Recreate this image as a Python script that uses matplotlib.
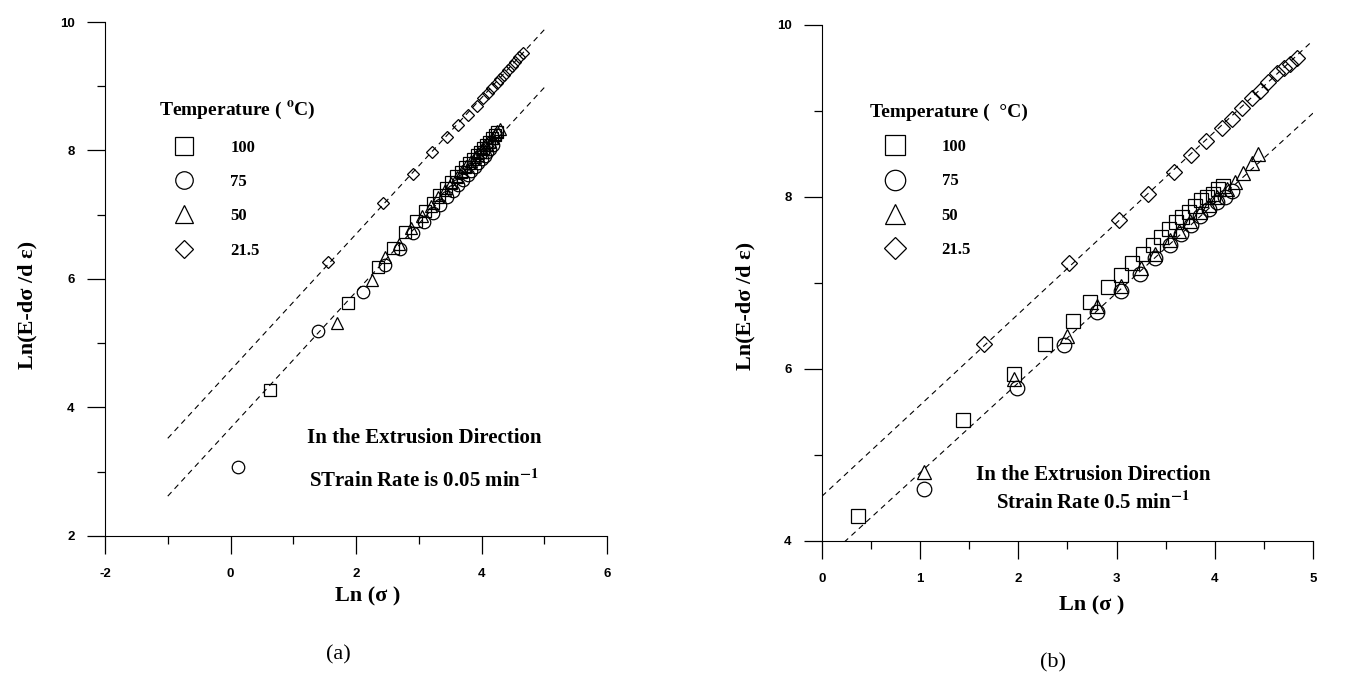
import numpy as np
import matplotlib
matplotlib.use('Agg')
import matplotlib.pyplot as plt

plt.rcParams['font.family'] = ['Liberation Serif', 'DejaVu Serif']
plt.rcParams['font.weight'] = 'bold'
plt.rcParams['mathtext.fontset'] = 'stix'
plt.rcParams['axes.unicode_minus'] = False

temps = ['100', '75', '50', '21.5']
markers = ['s', 'o', '^', 'D']

# (a) strain rate 0.05 min^-1
a_sq_x = [0.63, 1.87, 2.35, 2.59, 2.78, 2.95, 3.10, 3.22, 3.33, 3.43, 3.52, 3.60, 3.67, 3.74, 3.80, 3.86, 3.92, 3.97, 4.02, 4.07, 4.12, 4.17, 4.21, 4.25]
a_sq_y = [4.27, 5.63, 6.18, 6.48, 6.73, 6.90, 7.06, 7.19, 7.31, 7.42, 7.51, 7.60, 7.67, 7.75, 7.81, 7.87, 7.93, 7.98, 8.04, 8.09, 8.14, 8.19, 8.24, 8.29]
a_ci_x = [0.12, 1.39, 2.11, 2.46, 2.70, 2.91, 3.08, 3.22, 3.34, 3.45, 3.55, 3.63, 3.71, 3.78, 3.84, 3.90, 3.95, 4.00, 4.05, 4.09, 4.14, 4.18]
a_ci_y = [3.08, 5.19, 5.80, 6.22, 6.46, 6.71, 6.88, 7.03, 7.15, 7.27, 7.37, 7.46, 7.54, 7.62, 7.68, 7.75, 7.81, 7.86, 7.92, 7.97, 8.02, 8.08]
a_tr_x = [1.70, 2.25, 2.46, 2.68, 2.88, 3.05, 3.19, 3.31, 3.42, 3.52, 3.61, 3.69, 3.76, 3.83, 3.89, 3.95, 4.01, 4.06, 4.11, 4.16, 4.21, 4.25, 4.29]
a_tr_y = [5.32, 5.98, 6.35, 6.55, 6.80, 6.98, 7.14, 7.27, 7.39, 7.50, 7.59, 7.68, 7.76, 7.83, 7.90, 7.96, 8.03, 8.09, 8.14, 8.20, 8.25, 8.30, 8.34]
a_di_x = [1.55, 2.43, 2.91, 3.21, 3.45, 3.63, 3.79, 3.93, 4.02, 4.10, 4.17, 4.24, 4.30, 4.36, 4.42, 4.48, 4.54, 4.60, 4.66]
a_di_y = [6.27, 7.18, 7.64, 7.97, 8.21, 8.39, 8.56, 8.70, 8.82, 8.90, 8.98, 9.05, 9.12, 9.18, 9.25, 9.31, 9.38, 9.45, 9.52]
a_fits = [(1.06, 4.58), (1.06, 3.68)]   # slope, intercept of dashed lines
a_fit_x = [-1.0, 5.0]

# (b) strain rate 0.5 min^-1
b_sq_x = [0.37, 1.44, 1.96, 2.27, 2.56, 2.73, 2.91, 3.04, 3.16, 3.27, 3.37, 3.45, 3.53, 3.60, 3.67, 3.74, 3.80, 3.86, 3.92, 3.98, 4.03, 4.08]
b_sq_y = [4.29, 5.41, 5.94, 6.29, 6.56, 6.78, 6.95, 7.09, 7.23, 7.34, 7.44, 7.54, 7.63, 7.71, 7.77, 7.83, 7.90, 7.96, 8.00, 8.04, 8.09, 8.13]
b_ci_x = [1.04, 1.99, 2.46, 2.80, 3.05, 3.24, 3.39, 3.54, 3.66, 3.76, 3.85, 3.94, 4.02, 4.10, 4.18]
b_ci_y = [4.61, 5.78, 6.28, 6.66, 6.91, 7.10, 7.29, 7.44, 7.57, 7.68, 7.78, 7.86, 7.94, 8.00, 8.07]
b_tr_x = [1.04, 1.96, 2.50, 2.80, 3.05, 3.25, 3.39, 3.54, 3.64, 3.75, 3.85, 3.94, 4.02, 4.12, 4.21, 4.29, 4.38, 4.44]
b_tr_y = [4.80, 5.88, 6.38, 6.73, 6.96, 7.18, 7.34, 7.50, 7.61, 7.72, 7.82, 7.91, 8.00, 8.09, 8.18, 8.28, 8.40, 8.50]
b_di_x = [1.65, 2.52, 3.02, 3.32, 3.58, 3.76, 3.91, 4.07, 4.18, 4.28, 4.38, 4.46, 4.54, 4.63, 4.70, 4.77, 4.84]
b_di_y = [6.29, 7.23, 7.73, 8.04, 8.29, 8.49, 8.65, 8.80, 8.91, 9.04, 9.15, 9.23, 9.34, 9.44, 9.50, 9.55, 9.62]
b_fits = [(1.06, 4.52), (1.045, 3.75)]
b_fit_x = [0.0, 5.0]


def panel(ax, series, fits, fit_x, lims, ticks, msizes, leg_title, leg_anchor,
          note, note_pos, note_ls, xlab_pos, ylab_pos, letter, letter_pos):
    xs = np.array(fit_x)
    for k, b in fits:
        ax.plot(xs, k * xs + b, color='black', lw=0.8, dashes=(5, 4))
    for (x, y), m, s, t in zip(series, markers, msizes, temps):
        ax.plot(x, y, linestyle='none', marker=m, ms=s, mfc='none', mec='black',
                mew=0.9, label=t)
    ax.set_xlim(*lims[0])
    ax.set_ylim(*lims[1])
    ax.set_xticks(ticks[0])
    ax.set_xticks(ticks[1], minor=True)
    ax.set_yticks(ticks[2])
    ax.set_yticks(ticks[3], minor=True)
    for lab in ax.get_xticklabels() + ax.get_yticklabels():
        lab.set_family('Liberation Sans')
        lab.set_fontsize(9.5)
        lab.set_fontweight('bold')
    ax.tick_params(which='major', length=13, width=0.9, direction='out', pad=9)
    ax.tick_params(which='minor', length=6, width=0.9, direction='out')
    ax.tick_params(axis='x', which='major', pad=10)
    ax.spines['top'].set_visible(False)
    ax.spines['right'].set_visible(False)
    ax.set_xlabel('Ln (σ )', fontsize=16, fontweight='bold')
    ax.xaxis.set_label_coords(*xlab_pos)
    ax.set_ylabel('Ln(E-dσ /d ε)', fontsize=16, fontweight='bold')
    ax.yaxis.set_label_coords(*ylab_pos)
    leg = ax.legend(loc='upper left', bbox_to_anchor=leg_anchor, frameon=False,
                    title=leg_title, markerscale=1.4, borderpad=0,
                    handlelength=3.0, handletextpad=1.3, labelspacing=1.1,
                    alignment='left',
                    prop={'family': 'Liberation Serif', 'weight': 'bold', 'size': 12})
    leg.get_title().set_fontsize(14)
    leg.get_title().set_fontweight('bold')
    ax.text(note_pos[0], note_pos[1], note, transform=ax.transAxes, ha='center',
            va='center', fontsize=15, fontweight='bold', linespacing=note_ls)
    ax.text(letter_pos[0], letter_pos[1], letter, transform=ax.transAxes,
            ha='center', va='center', fontsize=16, fontweight='normal')


fig = plt.figure(figsize=(13.55, 6.77), dpi=100)
ax1 = fig.add_axes([0.0775, 0.2083, 0.3705, 0.7592])
ax2 = fig.add_axes([0.6066, 0.2009, 0.3624, 0.7622])

panel(ax1, [(a_sq_x, a_sq_y), (a_ci_x, a_ci_y), (a_tr_x, a_tr_y), (a_di_x, a_di_y)],
      a_fits, a_fit_x, [(-2, 6), (2, 10)],
      [[-2, 0, 2, 4, 6], [-1, 1, 3, 5], [2, 4, 6, 8, 10], [3, 5, 7, 9]],
      [9, 9, 9, 6.5], 'Temperature ( $^{\\mathbf{o}}$C)', (0.09, 0.865),
      'In the Extrusion Direction\nSTrain Rate is 0.05 min$^{\\mathbf{-1}}$',
      (0.635, 0.148), 2.2, (0.524, -0.099), (-0.135, 0.45),
      '(a)', (0.464, -0.2315))
panel(ax2, [(b_sq_x, b_sq_y), (b_ci_x, b_ci_y), (b_tr_x, b_tr_y), (b_di_x, b_di_y)],
      b_fits, b_fit_x, [(0, 5), (4, 10)],
      [[0, 1, 2, 3, 4, 5], [0.5, 1.5, 2.5, 3.5, 4.5], [4, 6, 8, 10], [5, 7, 9]],
      [10.5, 10.5, 10.5, 8], 'Temperature (  °C)', (0.081, 0.864),
      'In the Extrusion Direction\nStrain Rate 0.5 min$^{\\mathbf{-1}}$',
      (0.552, 0.10), 1.4, (0.55, -0.105), (-0.136, 0.455),
      '(b)', (0.47, -0.236))

fig.savefig('out.png', dpi=100)
